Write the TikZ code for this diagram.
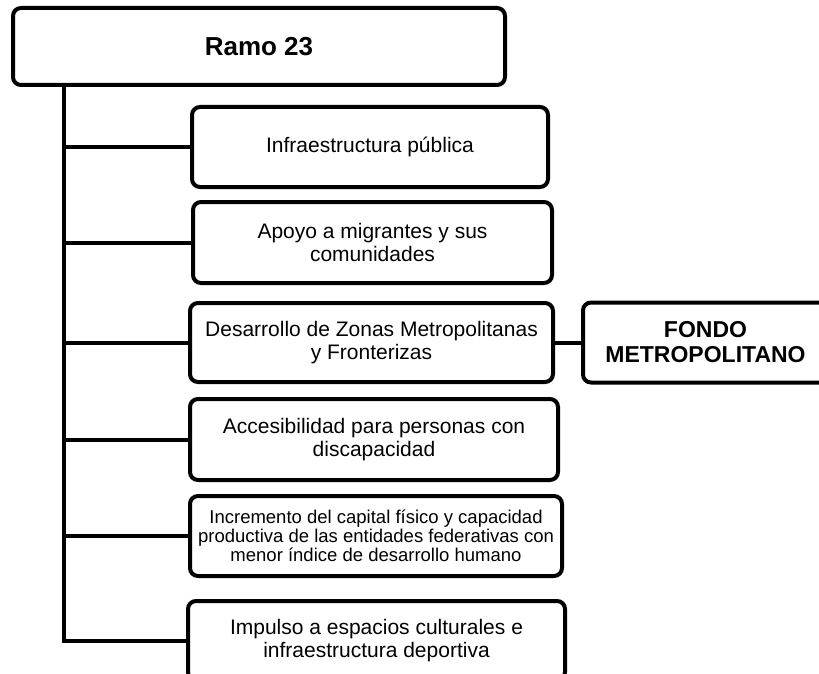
\documentclass[tikz,border=0pt]{standalone}
\usepackage{fontspec}
\setmainfont{Liberation Sans}
\begin{document}
\begin{tikzpicture}[x=1pt,y=-1pt,
  box/.style={draw=black,line width=4pt,rounded corners=8pt,fill=white,align=center,inner sep=0pt,anchor=center},
  txt/.style={font=\fontsize{21}{23.5}\selectfont},
  conn/.style={draw=black,line width=4pt}
]
\useasboundingbox (0,0) rectangle (819,674);
\clip (0,0) rectangle (819,674);
% boxes: center at midpoint, size from measured edges
\node[box,minimum width=492pt,minimum height=77pt,font=\fontsize{26}{30}\selectfont\bfseries] (ramo) at (259,46.5) {Ramo 23};
\node[box,txt,minimum width=356pt,minimum height=80pt] (b1) at (370,147) {Infraestructura pública};
\node[box,txt,minimum width=359pt,minimum height=81pt] (b2) at (372.5,242.5) {Apoyo a migrantes y sus\\comunidades};
\node[box,txt,minimum width=363pt,minimum height=79pt] (b3) at (371.5,342.5) {Desarrollo de Zonas Metropolitanas\\y Fronterizas};
\node[box,minimum width=245pt,minimum height=80pt,font=\fontsize{23}{25}\selectfont\bfseries] (fondo) at (705.5,342.5) {FONDO\\METROPOLITANO};
\node[box,txt,minimum width=368pt,minimum height=81pt] (b4) at (374,439.5) {Accesibilidad para personas con\\discapacidad};
\node[box,minimum width=372pt,minimum height=80pt,font=\fontsize{18.5}{19}\selectfont] (b5) at (376,536) {Incremento del capital físico y capacidad\\productiva de las entidades federativas con\\menor índice de desarrollo humano};
\node[box,txt,minimum width=377pt,minimum height=79pt] (b6) at (376.5,640.5) {Impulso a espacios culturales e\\infraestructura deportiva};
% trunk
\coordinate (tx) at (64,0);
\draw[conn] (tx |- ramo.south) -- (tx |- b6.west) -- (b6.west);
\foreach \b in {b1,b2,b3,b4,b5}{
  \draw[conn] (tx |- \b.west) -- (\b.west);
}
\draw[conn] (b3.east) -- (fondo.west);
\end{tikzpicture}
\end{document}
